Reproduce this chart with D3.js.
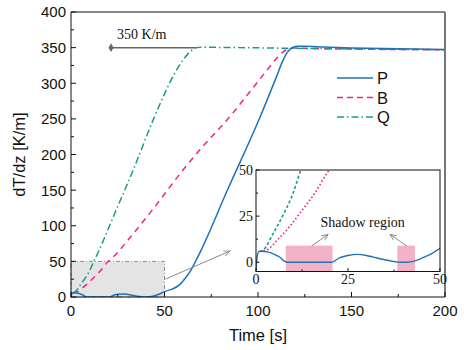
<!DOCTYPE html>
<html><head><meta charset="utf-8">
<script src="https://cdn.jsdelivr.net/npm/d3@7"></script>
<style>body{margin:0;background:#fff}svg{display:block}</style>
</head><body>
<svg id="c" width="464" height="350"></svg>
<script>
// ---- data ----
const seriesNames = ["P", "B", "Q"];
const pSeries = [[0,-4.5],[0.3,3],[0.8,5.8],[1.5,6],[3,5.6],[4.7,4.6],[6.5,2.7],[7.9,0.3],[8.6,0],[20.6,0],[21.5,0.9],[22.8,2.5],[25,3.7],[27.5,4.3],[30,3.7],[31.9,2.8],[34,1.8],[36.4,0.8],[38.5,0.1],[40,0],[41.5,0.1],[43,0.6],[45.5,2.6],[48,5],[50,7.6],[54,11],[58,17],[61,26],[64,37],[67,52],[70,68],[83.3,148],[101,252],[110,310],[113,330],[115.3,342],[118,349.5],[121,351.8],[125,352],[135,350.8],[150,349.5],[175,348.3],[200,347.5]];
const bSeries = [[1,6],[2.9,6.7],[6,12.5],[9,19],[12,26.8],[16,37.5],[19.7,49.5],[21.8,54.3],[32.4,86],[45.8,130],[59.2,176],[70.7,212],[83.3,248],[95,286],[104.7,318],[110,335],[113,343],[116,348],[119,349.5],[125,349],[150,348],[200,347]];
const qSeries = [[1,6],[2,6.7],[4.5,15],[7.4,25.8],[10,37],[12,49],[13.5,57],[23.5,118],[34,183],[44,249],[50,285],[55,312],[60,333],[64,345],[67,350],[70,350.5],[90,350],[120,349],[160,348],[200,347]];
const xTicks = [0, 50, 100, 150, 200];
const yTicks = [0, 50, 100, 150, 200, 250, 300, 350, 400];
const insetXTicks = [0, 25, 50];
const insetYTicks = [0, 25, 50];
const shadowRegions = [[8.1, 20.8], [38.4, 43.2]];
const shadowTop = 9;
const zoomBox = [0, 50, 0, 50];
const refLevel = 350, refFrom = 21.4, refTo = 67;

const colors = {P: "#1f72b8", B: "#f2208c", Q: "#1a9a8e"};

const svg = d3.select("#c");
const L = 71, R = 445, T = 12, B = 297;
const x = d3.scaleLinear().domain([0, 200]).range([L, R]);
const y = d3.scaleLinear().domain([0, 400]).range([B, T]);
const sans = "Arial, 'Liberation Sans', sans-serif";
const serif = "'Times New Roman', 'Liberation Serif', serif";

const defs = svg.append("defs");
defs.append("clipPath").attr("id", "mainClip").append("rect").attr("x", L).attr("y", T).attr("width", R - L).attr("height", B - T);
const mk = defs.append("marker").attr("id", "arr").attr("viewBox", "-1 -5 10 10").attr("refX", 7).attr("refY", 0)
  .attr("markerWidth", 9).attr("markerHeight", 9).attr("markerUnits", "userSpaceOnUse").attr("orient", "auto");
mk.append("path").attr("d", "M0,-3L7,0L0,3").attr("fill", "none").attr("stroke", "#8a8a8a").attr("stroke-width", 1);

// zoom box
svg.append("rect").attr("x", x(zoomBox[0])).attr("y", y(zoomBox[3]))
  .attr("width", x(zoomBox[1]) - x(zoomBox[0])).attr("height", y(zoomBox[2]) - y(zoomBox[3]))
  .attr("fill", "#e4e4e4").attr("stroke", "#8c8c8c").attr("stroke-width", 1).attr("stroke-dasharray", "4,2,1,2");

const line = d3.line().x(d => x(d[0])).y(d => y(d[1])).curve(d3.curveMonotoneX);
const g = svg.append("g").attr("clip-path", "url(#mainClip)");
g.append("path").datum(bSeries).attr("d", line).attr("fill", "none").attr("stroke", colors.B).attr("stroke-width", 1.5).attr("stroke-dasharray", "6,5");
g.append("path").datum(qSeries).attr("d", line).attr("fill", "none").attr("stroke", colors.Q).attr("stroke-width", 1.5).attr("stroke-dasharray", "7,3,1.5,3");
g.append("path").datum(pSeries).attr("d", line).attr("fill", "none").attr("stroke", colors.P).attr("stroke-width", 1.5);

// frame
svg.append("line").attr("x1", L).attr("x2", R).attr("y1", T).attr("y2", T).attr("stroke", "#111");
svg.append("line").attr("x1", R).attr("x2", R).attr("y1", T).attr("y2", B).attr("stroke", "#777").attr("stroke-width", 2);
svg.append("line").attr("x1", L).attr("x2", L).attr("y1", T).attr("y2", B + 0.5).attr("stroke", "#111");
svg.append("line").attr("x1", L).attr("x2", R).attr("y1", B).attr("y2", B).attr("stroke", "#111");

// ticks
const xa = svg.append("g").attr("font-family", sans).attr("font-size", 15).attr("fill", "#111");
d3.range(0, 201, 25).forEach(v => {
  const major = v % 50 === 0;
  xa.append("line").attr("x1", x(v)).attr("x2", x(v)).attr("y1", B).attr("y2", B - (major ? 5 : 3)).attr("stroke", "#111");
});
xTicks.forEach(v => xa.append("text").attr("x", x(v)).attr("y", B + 19).attr("text-anchor", "middle").text(v));
d3.range(0, 401, 25).forEach(v => {
  const major = v % 50 === 0;
  xa.append("line").attr("x1", L).attr("x2", L + (major ? 5 : 3)).attr("y1", y(v)).attr("y2", y(v)).attr("stroke", "#111");
});
yTicks.forEach(v => xa.append("text").attr("x", L - 5).attr("y", y(v)).attr("dy", "0.36em").attr("text-anchor", "end").text(v));

svg.append("text").attr("x", (L + R) / 2 + 0).attr("y", 341).attr("text-anchor", "middle").attr("font-family", sans).attr("font-size", 16.5).attr("fill", "#111").text("Time [s]");
svg.append("text").attr("transform", `translate(25,${(T + B) / 2}) rotate(-90)`).attr("text-anchor", "middle").attr("font-family", sans).attr("font-size", 16.5).attr("fill", "#111").text("dT/dz [K/m]");

// reference annotation
svg.append("line").attr("x1", x(refFrom)).attr("x2", x(refTo)).attr("y1", y(refLevel)).attr("y2", y(refLevel)).attr("stroke", "#666").attr("stroke-width", 1.5);
svg.append("path").attr("d", d3.symbol(d3.symbolDiamond, 22)()).attr("transform", `translate(${x(refFrom)},${y(refLevel)})`).attr("fill", "#666");
svg.append("text").attr("x", x(refFrom) + 6).attr("y", y(refLevel) - 8.5).attr("font-family", serif).attr("font-size", 14).attr("fill", "#111").text("350 K/m");

// arrow from zoom box to inset
svg.append("line").attr("x1", x(50.4)).attr("y1", y(25)).attr("x2", x(85)).attr("y2", y(64.5))
  .attr("stroke", "#8a8a8a").attr("stroke-width", 1).attr("marker-end", "url(#arr)");

// legend
const styles = {P: null, B: "6,4", Q: "7,3,1.5,3"};
seriesNames.forEach((n, i) => {
  const yy = 78 + i * 19.5;
  svg.append("line").attr("x1", 337).attr("x2", 373).attr("y1", yy).attr("y2", yy).attr("stroke", colors[n]).attr("stroke-width", 1.5).attr("stroke-dasharray", styles[n]);
  svg.append("text").attr("x", 377).attr("y", yy + 6).attr("font-family", sans).attr("font-size", 16.5).attr("fill", "#111").text(n);
});

// ---- inset ----
const iL = 256, iR = 440, iT = 170, iB = 271.5;
const ix = d3.scaleLinear().domain([0, 50]).range([iL, iR]);
const iy = d3.scaleLinear().domain([-5, 50]).range([iB, iT]);
defs.append("clipPath").attr("id", "insetClip").append("rect").attr("x", iL).attr("y", iT).attr("width", iR - iL).attr("height", iB - iT);
svg.append("rect").attr("x", iL).attr("y", iT).attr("width", iR - iL).attr("height", iB - iT).attr("fill", "#fff");
const ig = svg.append("g").attr("clip-path", "url(#insetClip)");
shadowRegions.forEach(r => ig.append("rect").attr("x", ix(r[0])).attr("width", ix(r[1]) - ix(r[0]))
  .attr("y", iy(shadowTop)).attr("height", iy(-5) - iy(shadowTop)).attr("fill", "#f2b3c6"));
const iline = d3.line().x(d => ix(d[0])).y(d => iy(d[1])).curve(d3.curveMonotoneX);
const cut = s => s.filter((d, i) => d[0] <= 50 || (i > 0 && s[i - 1][0] <= 50));
ig.append("path").datum(cut(bSeries)).attr("d", iline).attr("fill", "none").attr("stroke", colors.B).attr("stroke-width", 1.6).attr("stroke-dasharray", "1.6,2.2");
ig.append("path").datum(cut(qSeries)).attr("d", iline).attr("fill", "none").attr("stroke", colors.Q).attr("stroke-width", 1.6).attr("stroke-dasharray", "3,2.2");
ig.append("path").datum(cut(pSeries)).attr("d", iline).attr("fill", "none").attr("stroke", colors.P).attr("stroke-width", 1.4);
svg.append("rect").attr("x", iL).attr("y", iT).attr("width", iR - iL).attr("height", iB - iT).attr("fill", "none").attr("stroke", "#111").attr("stroke-width", 1);
const it = svg.append("g").attr("font-family", serif).attr("font-size", 14).attr("fill", "#111");
d3.range(0, 50.1, 12.5).forEach(v => {
  const major = v % 25 === 0;
  it.append("line").attr("x1", ix(v)).attr("x2", ix(v)).attr("y1", iB).attr("y2", iB - (major ? 3.5 : 2)).attr("stroke", "#111");
  it.append("line").attr("x1", iL).attr("x2", iL + (major ? 3.5 : 2)).attr("y1", iy(v)).attr("y2", iy(v)).attr("stroke", "#111");
});
insetXTicks.forEach(v => it.append("text").attr("x", ix(v)).attr("y", iB + 12).attr("text-anchor", "middle").text(v));
insetYTicks.forEach(v => it.append("text").attr("x", iL - 3).attr("y", iy(v)).attr("dy", "0.35em").attr("text-anchor", "end").text(v));
it.append("text").attr("x", ix(17.5)).attr("y", iy(19.3)).text("Shadow region");
svg.append("line").attr("x1", ix(15.1)).attr("y1", iy(8.8)).attr("x2", ix(19.6)).attr("y2", iy(15.1)).attr("stroke", "#8a8a8a").attr("marker-end", "url(#arr)");
svg.append("line").attr("x1", ix(41)).attr("y1", iy(8.8)).attr("x2", ix(36.4)).attr("y2", iy(15.1)).attr("stroke", "#8a8a8a").attr("marker-end", "url(#arr)");
</script>
</body></html>
